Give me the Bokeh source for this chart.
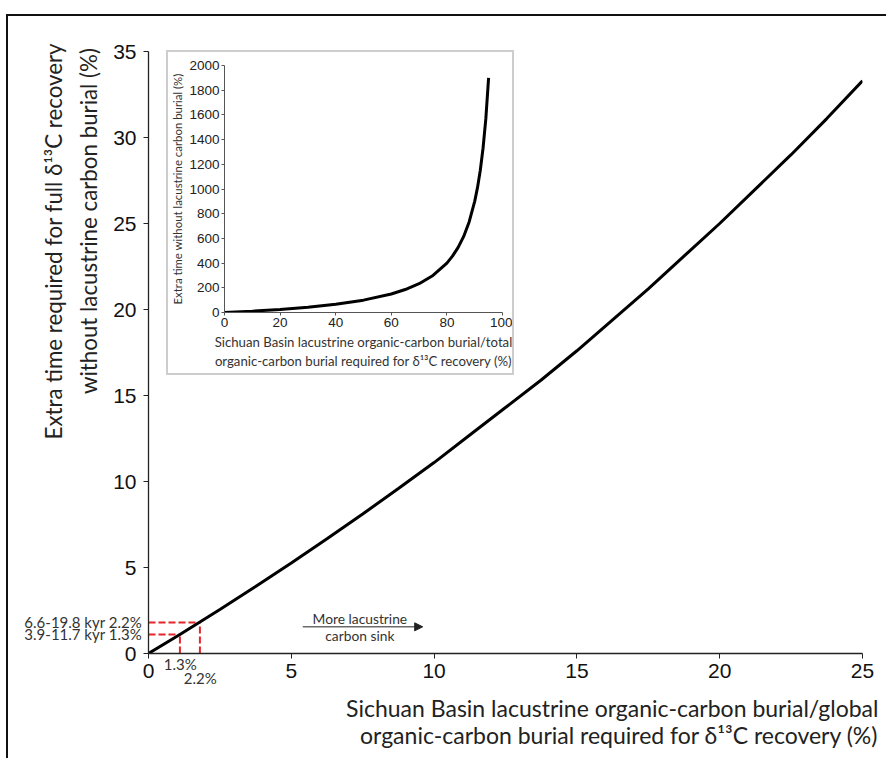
import math
from bokeh.plotting import figure
from bokeh.models import Label, Arrow, NormalHead, Range1d
from bokeh.embed import file_html
from bokeh.resources import INLINE

# ---------------- data ----------------
main_x = [0, 1.1, 1.8, 2.5, 3.75, 5, 6.25, 7.5, 8.75, 10, 11.25, 12.5, 13.75, 15, 16.25, 17.5,
          18.75, 20, 21.25, 22.5, 23.75, 25]
main_y = [0, 1.11, 1.83, 2.56, 3.9, 5.26, 6.67, 8.11, 9.59, 11.1, 12.7, 14.3, 15.9, 17.6, 19.4, 21.2,
          23.1, 25.0, 27.0, 29.0, 31.1, 33.3]
main_xticks = [0, 5, 10, 15, 20, 25]
main_yticks = [0, 5, 10, 15, 20, 25, 30, 35]

inset_x = [0, 10, 20, 30, 40, 50, 60, 65, 70, 75, 80, 82, 84, 86, 88, 90, 91, 92, 93, 94, 95]
inset_y = [0, 11, 25, 43, 67, 100, 150, 186, 233, 300, 400, 456, 525, 614, 733, 900, 1011, 1150, 1330, 1567, 1900]
inset_xticks = [0, 20, 40, 60, 80, 100]
inset_yticks = [0, 200, 400, 600, 800, 1000, 1200, 1400, 1600, 1800, 2000]

mark_x = [1.1, 1.8]          # drawn positions of the 1.3 % and 2.2 % markers
mark_y = [1.1, 1.8]
mark_text = ["3.9-11.7 kyr  1.3%", "6.6-19.8 kyr  2.2%"]
mark_xtext = ["1.3%", "2.2%"]

LABEL_FONT = "Lato"
TICK_FONT = "Liberation Sans"

# ---------------- geometry ----------------
W, H = 880, 744                       # outer size of the main figure (border-box)
BL, BR, BT, BB = 140, 26, 35, 107     # frame borders inside the main canvas
X0, X1, Y0, Y1 = 0, 25, 0, 35
LEFT, TOP = 6, 14                     # page position of the main figure

# ---------------- main figure ----------------
p = figure(width=W, height=H, x_range=Range1d(X0, X1), y_range=Range1d(Y0, Y1),
           output_backend="svg", toolbar_location=None,
           min_border_left=BL, min_border_right=BR, min_border_top=BT, min_border_bottom=BB)
p.margin = (TOP, 0, 0, LEFT)
p.styles = {"border-top": "2px solid #111", "border-left": "2px solid #111"}
p.outline_line_color = None
p.grid.visible = False

for ax, ticks in ((p.xaxis, main_xticks), (p.yaxis, main_yticks)):
    ax.ticker = ticks
    ax.axis_line_color = "#222"
    ax.axis_line_width = 1.3
    ax.major_tick_line_color = "#222"
    ax.major_tick_out = 5
    ax.major_tick_in = 0
    ax.minor_tick_line_color = None
    ax.major_label_text_font = TICK_FONT
    ax.major_label_text_font_size = "21px"
    ax.major_label_text_color = "#111"
p.yaxis.major_label_standoff = 7

p.segment(x0=[0] * len(mark_x), y0=mark_y, x1=mark_x, y1=mark_y,
          line_color="#e5252a", line_width=2, line_dash="7 3")
p.segment(x0=mark_x, y0=[0] * len(mark_x), x1=mark_x, y1=mark_y,
          line_color="#e5252a", line_width=2, line_dash="7 3")
p.line(main_x, main_y, line_color="black", line_width=3)

p.add_layout(Arrow(end=NormalHead(size=8, fill_color="#222", line_color="#222"),
                   x_start=5.4, y_start=1.55, x_end=9.6, y_end=1.55, line_color="#222", line_width=1))
p.add_layout(Label(x=7.4, y=2.05, text="More lacustrine", text_align="center", text_baseline="middle",
                   text_font=LABEL_FONT, text_font_size="13.8px", text_color="#333"))
p.add_layout(Label(x=7.4, y=1.05, text="carbon sink", text_align="center", text_baseline="middle",
                   text_font=LABEL_FONT, text_font_size="13.8px", text_color="#333"))

# ---------------- transparent text overlay (same data mapping, frame = whole canvas) ----
px_x = (W - 2 - BL - BR) / (X1 - X0)
px_y = (H - 2 - BT - BB) / (Y1 - Y0)
o = figure(width=W, height=H,
           x_range=Range1d(X0 - BL / px_x, X1 + BR / px_x),
           y_range=Range1d(Y0 - BB / px_y, Y1 + BT / px_y),
           output_backend="svg", toolbar_location=None,
           x_axis_location=None, y_axis_location=None, min_border=0)
o.styles = {"position": "absolute", "left": f"{LEFT}px", "top": f"{TOP}px",
            "border-top": "2px solid transparent", "border-left": "2px solid transparent"}
o.outline_line_color = None
o.grid.visible = False
o.background_fill_alpha = 0
o.border_fill_alpha = 0

for my, t in zip(mark_y, mark_text):
    o.add_layout(Label(x=0, y=my, x_offset=-3, text=t, text_align="right", text_baseline="middle",
                       text_font=LABEL_FONT, text_font_size="15px", text_color="#333"))
for mx, t, yy in zip(mark_x, mark_xtext, [-0.6, -1.45]):
    o.add_layout(Label(x=mx, y=yy, text=t, text_align="center", text_baseline="middle",
                       text_font=LABEL_FONT, text_font_size="15px", text_color="#333"))

o.add_layout(Label(x=-3.33, y=23.97, text="Extra time required for full δ¹³C recovery",
                   angle=math.pi / 2, text_align="center", text_baseline="middle",
                   text_font=LABEL_FONT, text_font_size="22.3px", text_color="#222"))
o.add_layout(Label(x=-2.1, y=25.14, text="without lacustrine carbon burial (%)",
                   angle=math.pi / 2, text_align="center", text_baseline="middle",
                   text_font=LABEL_FONT, text_font_size="22.3px", text_color="#222"))
o.add_layout(Label(x=25.56, y=-3.2, text="Sichuan Basin lacustrine organic-carbon burial/global",
                   text_align="right", text_baseline="middle",
                   text_font=LABEL_FONT, text_font_size="23px", text_color="#222"))
o.add_layout(Label(x=25.56, y=-4.75, text="organic-carbon burial required for δ¹³C recovery (%)",
                   text_align="right", text_baseline="middle",
                   text_font=LABEL_FONT, text_font_size="23px", text_color="#222"))

# ---------------- inset figure ----------------
q = figure(width=348, height=325, x_range=Range1d(0, 100), y_range=Range1d(0, 2000),
           output_backend="svg", toolbar_location=None,
           min_border_left=54, min_border_right=14, min_border_top=13, min_border_bottom=65)
q.styles = {"position": "absolute", "left": "166px", "top": "50px",
            "border": "2px solid #cdcdcd", "background-color": "white"}
q.outline_line_color = None
q.grid.visible = False
for ax, ticks in ((q.xaxis, inset_xticks), (q.yaxis, inset_yticks)):
    ax.ticker = ticks
    ax.axis_line_color = "#555"
    ax.major_tick_line_color = "#555"
    ax.major_tick_out = 3
    ax.major_tick_in = 0
    ax.minor_tick_line_color = None
    ax.major_label_text_font = TICK_FONT
    ax.major_label_text_font_size = "13.5px"
    ax.major_label_text_color = "#222"
    ax.major_label_standoff = 2
    ax.axis_label_text_font = LABEL_FONT
    ax.axis_label_text_font_style = "normal"
    ax.axis_label_text_color = "#333"
q.xaxis.axis_label = "Sichuan Basin lacustrine organic-carbon burial/total\norganic-carbon burial required for δ¹³C recovery (%)"
q.xaxis.axis_label_text_font_size = "13.2px"
q.xaxis.axis_label_standoff = 4
q.yaxis.axis_label = "Extra time without lacustrine carbon burial (%)"
q.yaxis.axis_label_text_font_size = "11.4px"
q.yaxis.axis_label_standoff = 2

q.line(inset_x, inset_y, line_color="black", line_width=3)

# three independent roots (no shared layout, so no frame alignment); o and q are placed over p
open("out.html", "w").write(file_html([p, o, q], INLINE))
